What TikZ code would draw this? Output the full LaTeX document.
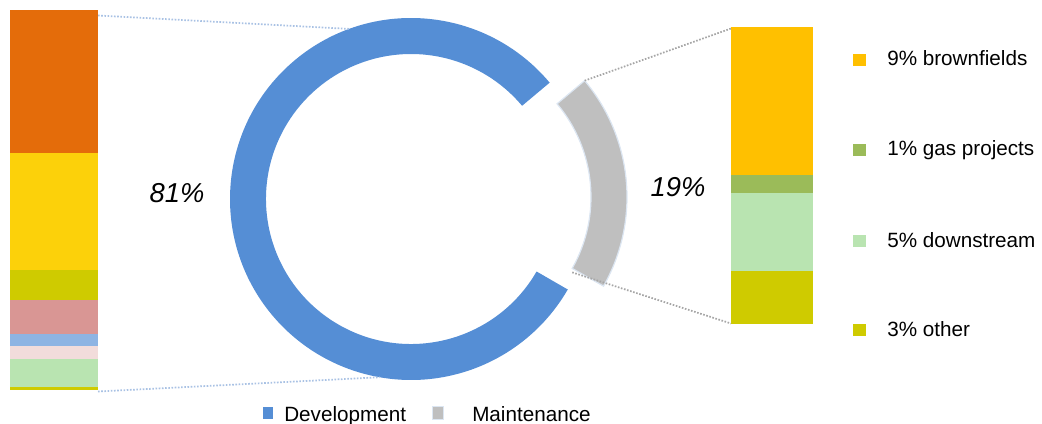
\documentclass[tikz,border=0pt]{standalone}
\usepackage{fontspec}
\setmainfont{Liberation Sans}
\definecolor{devblue}{HTML}{558ED5}
\definecolor{maintgray}{HTML}{BFBFBF}
\definecolor{rimblue}{HTML}{DCE6F2}
\definecolor{devorange}{HTML}{E46C0A}
\definecolor{devyellow}{HTML}{FCD10A}
\definecolor{devolive}{HTML}{CFCB00}
\definecolor{devrose}{HTML}{D99694}
\definecolor{devsky}{HTML}{8EB4E3}
\definecolor{devblush}{HTML}{F2DCDB}
\definecolor{devmint}{HTML}{B9E4B1}
\definecolor{brownyellow}{HTML}{FFC000}
\definecolor{gasgreen}{HTML}{9BBB59}
\definecolor{linkblue}{HTML}{A9C2E4}
\definecolor{linkgray}{HTML}{A6A6A6}
\begin{document}
\begin{tikzpicture}[x=0.75pt,y=-0.75pt,
    keybox/.style={minimum size=9.5pt, inner sep=0pt},
    smallkey/.style={minimum width=7.5pt, minimum height=8.5pt, inner sep=0pt},
    keytext/.style={anchor=base west, inner sep=0pt, font=\fontsize{15.5}{18}\selectfont},
    pcttext/.style={font=\fontsize{20.5}{24}\selectfont\itshape},
    devlink/.style={linkblue, line width=1.3pt, dash pattern=on 1.2pt off 1.2pt},
    maintlink/.style={linkgray, line width=1.3pt, dash pattern=on 1.2pt off 1.2pt}]
        \useasboundingbox (0,0) rectangle (1042,424);

        % left bar, development split
        \foreach \top/\bot/\col in {10/153/devorange, 153/270/devyellow, 270/300/devolive,
                300/334/devrose, 334/346/devsky, 346/359/devblush, 359/387/devmint, 387/390/devolive}
            \fill[\col] (10,\top) rectangle (98,\bot);

        % right bar, maintenance split
        \foreach \top/\bot/\col in {27/175/brownyellow, 175/193/gasgreen, 193/271/devmint, 271/324/devolive}
            \fill[\col] (731,\top) rectangle (813,\bot);

        \coordinate (devtop) at (98,15.5);
        \coordinate (devbottom) at (98,391.5);
        \coordinate (mainttopbar) at (731,28.5);
        \coordinate (maintbottombar) at (731,323.5);

        % donut
        \begin{scope}[shift={(411,199)}]
            \fill[devblue] (-40:181) arc[start angle=-40, end angle=-330, radius=181]
                -- (-330:145) arc[start angle=-330, end angle=-40, radius=145] -- cycle;
            \coordinate (ringtop) at (-110:181);
            \coordinate (ringbottom) at (-260:181);
        \end{scope}
        \begin{scope}[shift={(446,197)}]
            \filldraw[fill=maintgray, draw=rimblue, line width=0.9pt] (-40:181) arc[start angle=-40, end angle=29.5, radius=181]
                -- (29.5:145) arc[start angle=29.5, end angle=-40, radius=145] -- cycle;
            \coordinate (grayouter) at (-40:181);
            \coordinate (grayinner) at (29.5:145);
        \end{scope}

        \draw[devlink] (devtop) -- (ringtop);
        \draw[devlink] (devbottom) -- (ringbottom);
        \draw[maintlink] (grayouter) -- (mainttopbar);
        \draw[maintlink] ([yshift=-3pt]grayinner) -- (maintbottombar);

        \node[pcttext] (devpct) at (177,193) {81\%};
        \node[pcttext] (maintpct) at (678,187) {19\%};

        % right legend
        \foreach \y/\col/\name/\txt in {60/brownyellow/brown/{9\% brownfields}, 150/gasgreen/gas/{1\% gas projects},
                241/devmint/down/{5\% downstream}, 330/devolive/other/{3\% other}} {
            \node[keybox, fill=\col] (k\name) at (859.5,\y) {};
            \node[keytext] (t\name) at (887,\y+6) {\txt};
        }

        % bottom legend
        \node[smallkey, fill=devblue] (kdev) at (267.5,413) {};
        \node[keytext] (tdev) at (284,421) {Development};
        \node[smallkey, minimum width=8.5pt, minimum height=9.5pt, fill=maintgray, draw=rimblue, line width=1.2pt] (kmaint) at (438,413) {};
        \node[keytext] (tmaint) at (472,421) {Maintenance};
    \end{tikzpicture}
\end{document}
